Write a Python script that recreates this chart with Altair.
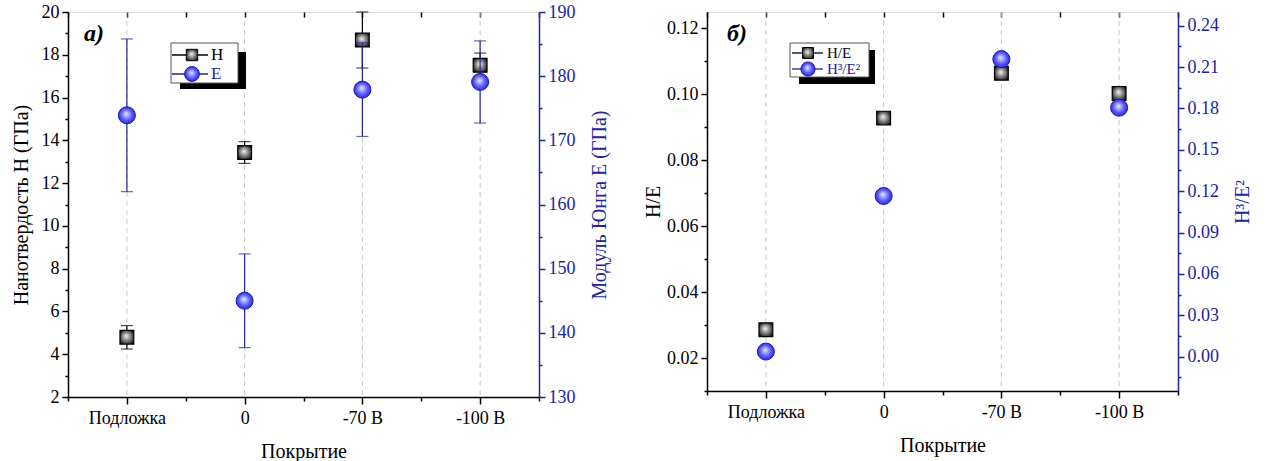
import json
import altair as alt
import pandas as pd

# ---------------- data ----------------
categories = ["Подложка", "0", "-70 В", "-100 В"]
H = [4.79, 13.43, 18.69, 17.51]
H_err = [0.55, 0.51, 1.31, 0.57]
E = [173.9, 145.0, 177.9, 179.1]
E_err = [11.9, 7.3, 7.3, 6.4]
HE = [0.0286, 0.0928, 0.1064, 0.1003]
H3E2 = [0.0036, 0.1165, 0.2158, 0.1806]

h_ticks = list(range(2, 21))
e_ticks = list(range(130, 191, 5))
he_ticks = [round(0.01 * k, 2) for k in range(1, 13)]
h3_ticks = [round(0.015 * k, 3) for k in range(-1, 17)]
x_ticks = [k / 2 for k in range(-1, 8)]

NAVY = "#23239A"
FONT = "Liberation Serif"

df1 = pd.DataFrame({
    "i": range(len(categories)), "cat": categories,
    "H": H, "H_lo": [a - b for a, b in zip(H, H_err)], "H_hi": [a + b for a, b in zip(H, H_err)],
    "E": E, "E_lo": [a - b for a, b in zip(E, E_err)], "E_hi": [a + b for a, b in zip(E, E_err)],
})
df2 = pd.DataFrame({"i": range(len(categories)), "cat": categories, "HE": HE, "H3E2": H3E2})
one = pd.DataFrame({"a": [0]})

cats_js = json.dumps(categories, ensure_ascii=False)
x_label_expr = f"(datum.value % 1 == 0 && datum.value >= 0 && datum.value < {len(categories)}) ? {cats_js}[datum.value] : ''"
x_scale = alt.Scale(domain=[-0.5, len(categories) - 0.5], nice=False, zero=False)

sq_fill = {"gradient": "radial", "x1": 0.45, "y1": 0.4, "r1": 0, "x2": 0.5, "y2": 0.5, "r2": 0.62,
           "stops": [{"offset": 0, "color": "#f4f4f4"}, {"offset": 1, "color": "#101010"}]}
ci_fill = {"gradient": "radial", "x1": 0.45, "y1": 0.4, "r1": 0, "x2": 0.5, "y2": 0.5, "r2": 0.55,
           "stops": [{"offset": 0, "color": "#e6ebff"}, {"offset": 0.6, "color": "#5a5aff"}, {"offset": 1, "color": "#2222dd"}]}

bottom_axis = alt.Axis(values=x_ticks, labelExpr=x_label_expr, title="Покрытие", grid=False,
                       tickSize={"condition": {"test": "datum.value % 1 == 0", "value": 7}, "value": 4},
                       labelFontSize=18, titleFontSize=20, labelPadding=5, titlePadding=14,
                       domainColor="black", tickColor="black", labelColor="black", titleColor="black",
                       labelFont=FONT, titleFont=FONT, titleFontWeight="normal", domainWidth=1.5, tickWidth=1.5)


def top_axis_layer(data):
    # dashed vertical rules at each category, carrying the (tick-only) top axis
    return alt.Chart(data).mark_rule(color="#c8c8c8", strokeDash=[5, 4], strokeWidth=1).encode(
        x=alt.X("i:Q", scale=x_scale,
                axis=alt.Axis(orient="top", values=x_ticks, labels=False, domain=False, title=None, grid=False,
                              tickSize={"expr": "-5"}, tickColor="black", tickWidth=1.5)))


def y_axis(values, major_test, fmt, title, color, orient, tpad):
    extra = {"titleBaseline": "top"} if orient == "right" else {}
    return alt.Axis(values=values, orient=orient, title=title, grid=False, format=fmt,
                    labelExpr=f"({major_test}) ? datum.label : ''",
                    tickSize={"condition": {"test": major_test, "value": 6}, "value": 3},
                    labelFontSize=18, titleFontSize=20, labelPadding=3, titlePadding=tpad, titleAngle=270,
                    domainColor=color, tickColor=color, labelColor=color, titleColor=color,
                    labelFont=FONT, titleFont=FONT, titleFontWeight="normal", domainWidth=1.5, tickWidth=1.5,
                    **extra)


def legend_layers(box, shadow, rows, fs):
    layers = []
    layers.append(alt.Chart(one).mark_rect(color="black").encode(
        x=alt.value(shadow[0]), x2=alt.value(shadow[1]), y=alt.value(shadow[2]), y2=alt.value(shadow[3])))
    layers.append(alt.Chart(one).mark_rect(fill="white", stroke="#555555", strokeWidth=1).encode(
        x=alt.value(box[0]), x2=alt.value(box[1]), y=alt.value(box[2]), y2=alt.value(box[3])))
    for (yy, x0, x1, xm, xt, label, color, shape, fill, stroke, size) in rows:
        layers.append(alt.Chart(one).mark_rule(color=color, strokeWidth=1.3).encode(
            x=alt.value(x0), x2=alt.value(x1), y=alt.value(yy)))
        layers.append(alt.Chart(one).mark_point(shape=shape, fill=fill, stroke=stroke, strokeWidth=1,
                                                filled=True, opacity=1, size=size).encode(
            x=alt.value(xm), y=alt.value(yy)))
        layers.append(alt.Chart(one).mark_text(align="left", baseline="middle", font=FONT, fontSize=fs,
                                               color=color).encode(
            x=alt.value(xt), y=alt.value(yy), text=alt.value(label)))
    return layers


# ---------------- panel a ----------------
h_scale = alt.Scale(domain=[2, 20], nice=False, zero=False)
e_scale = alt.Scale(domain=[130, 190], nice=False, zero=False)
base1 = alt.Chart(df1)
h_err_l = base1.mark_errorbar(ticks=True, size=12, thickness=1.2, color="black").encode(
    x=alt.X("i:Q", scale=x_scale, axis=None),
    y=alt.Y("H_lo:Q", scale=h_scale,
            axis=y_axis(h_ticks, "datum.value % 2 == 0", "d", "Нанотвердость H (ГПа)", "black", "left", 10)),
    y2="H_hi:Q")
h_pts = base1.mark_point(shape="square", size=190, fill=sq_fill, stroke="black", strokeWidth=1.2,
                         filled=True, opacity=1).encode(
    x=alt.X("i:Q", scale=x_scale, axis=bottom_axis), y=alt.Y("H:Q", scale=h_scale, axis=None))

e_err_l = base1.mark_errorbar(ticks=True, size=12, thickness=1.2, color=NAVY).encode(
    x=alt.X("i:Q", scale=x_scale, axis=None),
    y=alt.Y("E_lo:Q", scale=e_scale,
            axis=y_axis(e_ticks, "datum.value % 10 == 0", "d", "Модуль Юнга E (ГПа)", NAVY, "right", 14)),
    y2="E_hi:Q")
e_pts = base1.mark_point(shape="circle", size=290, fill=ci_fill, stroke="#1a1aa8", strokeWidth=1,
                         filled=True, opacity=1).encode(
    x=alt.X("i:Q", scale=x_scale, axis=None), y=alt.Y("E:Q", scale=e_scale, axis=None))

leg1 = legend_layers(
    box=(103, 170, 31, 71), shadow=(112, 178, 40, 77),
    rows=[(43, 104, 140, 124, 143, "H", "black", "square", sq_fill, "black", 130),
          (62, 104, 140, 124, 143, "E", NAVY, "circle", ci_fill, "#1a1aa8", 220)], fs=17)
lab1 = alt.Chart(one).mark_text(align="left", baseline="middle", font=FONT, fontSize=24, fontStyle="italic",
                                fontWeight="bold", color="black").encode(
    x=alt.value(16), y=alt.value(22), text=alt.value("a)"))

panel_a = alt.layer(top_axis_layer(df1), h_err_l, h_pts, e_err_l, e_pts, *leg1, lab1).resolve_scale(
    y="independent").resolve_axis(x="independent").properties(width=471, height=385)

# ---------------- panel b ----------------
base2 = alt.Chart(df2)
he_pts = base2.mark_point(shape="square", size=190, fill=sq_fill, stroke="black", strokeWidth=1.2,
                          filled=True, opacity=1).encode(
    x=alt.X("i:Q", scale=x_scale, axis=bottom_axis),
    y=alt.Y("HE:Q", scale=alt.Scale(domain=[0.01, 0.125], nice=False, zero=False),
            axis=y_axis(he_ticks, "round(datum.value * 100) % 2 == 0", ".2f", "H/E", "black", "left", 3)))
h3_pts = base2.mark_point(shape="circle", size=290, fill=ci_fill, stroke="#1a1aa8", strokeWidth=1,
                          filled=True, opacity=1).encode(
    x=alt.X("i:Q", scale=x_scale, axis=None),
    y=alt.Y("H3E2:Q", scale=alt.Scale(domain=[-0.025, 0.25], nice=False, zero=False),
            axis=y_axis(h3_ticks, "round(datum.value * 1000) % 30 == 0", ".2f", "H³/E²", NAVY, "right", 14)))

leg2 = legend_layers(
    box=(83, 162, 31, 65), shadow=(92, 168, 38, 72),
    rows=[(41, 85, 116, 101, 120, "H/E", "black", "square", sq_fill, "black", 120),
          (57, 85, 116, 101, 120, "H³/E²", NAVY, "circle", ci_fill, "#1a1aa8", 200)], fs=15)
lab2 = alt.Chart(one).mark_text(align="left", baseline="middle", font=FONT, fontSize=24, fontStyle="italic",
                                fontWeight="bold", color="black").encode(
    x=alt.value(20), y=alt.value(22), text=alt.value("б)"))

panel_b = alt.layer(top_axis_layer(df2), he_pts, h3_pts, *leg2, lab2).resolve_scale(
    y="independent").resolve_axis(x="independent").properties(width=471, height=379)

chart = alt.hconcat(panel_a, panel_b, spacing=33).properties(
    padding={"left": 10, "top": 2, "right": 5, "bottom": 5}
).configure_view(stroke="black", strokeWidth=1.5).configure_axis(
    labelFont=FONT, titleFont=FONT).configure(background="white")

chart.save("out.html", embed_options={"renderer": "svg", "actions": False})
